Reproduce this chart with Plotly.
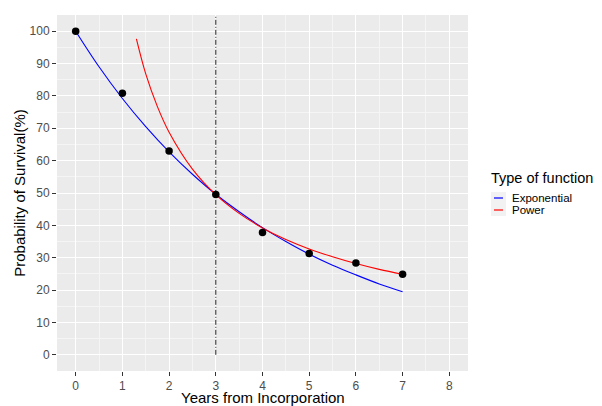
import plotly.graph_objects as go

# Observed survival points
years = [0, 1, 2, 3, 4, 5, 6, 7]
survival = [100, 80.8, 63.0, 49.5, 37.8, 31.3, 28.4, 24.9]

# Exponential fitted curve
exp_x = [0, 0.5, 1, 1.5, 2, 2.5, 3, 3.5, 4, 4.5, 5, 5.5, 6, 6.5, 7]
exp_y = [100, 89.0, 79.2, 70.5, 62.7, 55.8, 49.6, 44.2, 39.3, 35.0, 31.1, 27.7, 24.7, 21.9, 19.5]

# Power fitted curve
pow_x = [1.3, 1.5, 1.75, 2, 2.5, 3, 3.5, 4, 4.5, 5, 5.5, 6, 6.5, 7]
pow_y = [97.6, 86.8, 76.7, 68.8, 57.4, 49.5, 43.7, 39.2, 35.6, 32.7, 30.3, 28.2, 26.4, 24.9]

# Vertical reference line
ref_x = [3, 3]
ref_y = [0, 105]

x_ticks = [0, 1, 2, 3, 4, 5, 6, 7, 8]
y_ticks = [0, 10, 20, 30, 40, 50, 60, 70, 80, 90, 100]

x_title = "Years from Incorporation"
y_title = "Probability of Survival(%)"
legend_title = "Type of function"
legend_names = ["Exponential", "Power"]
legend_colors = ["#0000ff", "#ff0000"]

FONT = "Liberation Sans, Arial"
OFF = 8  # page body margin
W, H = 602 - OFF, 406 - OFF

fig = go.Figure()
fig.add_trace(go.Scatter(x=ref_x, y=ref_y, mode="lines",
                         line=dict(color="#222222", width=1, dash="5px,2px,1px,2px"),
                         showlegend=False, hoverinfo="skip"))
fig.add_trace(go.Scatter(x=exp_x, y=exp_y, mode="lines", name=legend_names[0],
                         line=dict(color=legend_colors[0], width=1.1, shape="spline"),
                         showlegend=False))
fig.add_trace(go.Scatter(x=pow_x, y=pow_y, mode="lines", name=legend_names[1],
                         line=dict(color=legend_colors[1], width=1.1, shape="spline"),
                         showlegend=False))
fig.add_trace(go.Scatter(x=years, y=survival, mode="markers",
                         marker=dict(color="black", size=7.5), showlegend=False))

axis_common = dict(
    showgrid=True, gridcolor="white", gridwidth=1.1,
    zeroline=False, showline=False, automargin=False,
    ticks="outside", ticklen=4, tickcolor="#333333", tickwidth=1,
    tickfont=dict(family=FONT, size=12, color="#4d4d4d"),
)

fig.update_xaxes(range=[-0.4, 8.4], tickvals=x_ticks,
                 minor=dict(dtick=0.5, showgrid=True, gridcolor="#f5f5f5", gridwidth=0.5, ticks=""),
                 **axis_common)
fig.update_yaxes(range=[-5, 105], tickvals=y_ticks,
                 minor=dict(dtick=5, showgrid=True, gridcolor="#f5f5f5", gridwidth=0.5, ticks=""),
                 title=dict(text=y_title, standoff=0,
                            font=dict(family=FONT, size=15, color="black")),
                 **axis_common)

# Panel edges in figure pixels (page pixels minus the body margin)
L, R, T, B = 57 - OFF, 468 - OFF, 15 - OFF, 371 - OFF
def px(xp):
    return (xp - OFF - L) / (R - L)
def py(yp):
    return (B - (yp - OFF)) / (B - T)

annotations = [
    # x-axis title (sits at the bottom edge, slightly cut as in the reference)
    dict(text=x_title, x=0.5, y=py(398), xref="paper", yref="paper",
         xanchor="center", yanchor="middle", showarrow=False, borderpad=0,
         font=dict(family=FONT, size=15, color="black")),
    # legend title
    dict(text=legend_title, x=px(490), y=py(178), xref="paper", yref="paper",
         xanchor="left", yanchor="middle", showarrow=False, borderpad=0,
         font=dict(family=FONT, size=14.5, color="black")),
]
shapes = []
item_y = [198, 210]
for name, col, yc in zip(legend_names, legend_colors, item_y):
    shapes.append(dict(type="rect", xref="paper", yref="paper",
                       x0=px(491), x1=px(506), y0=py(yc + 6), y1=py(yc - 6),
                       fillcolor="#f2f2f2", line=dict(width=0), layer="above"))
    shapes.append(dict(type="line", xref="paper", yref="paper",
                       x0=px(494), x1=px(503), y0=py(yc), y1=py(yc),
                       line=dict(color=col, width=1.2), layer="above"))
    annotations.append(dict(text=name, x=px(511), y=py(yc), xref="paper", yref="paper",
                            xanchor="left", yanchor="middle", showarrow=False, borderpad=0,
                            font=dict(family=FONT, size=11.5, color="black")))

fig.update_layout(
    width=W, height=H,
    margin=dict(l=L, r=W - R, t=T, b=H - B),
    plot_bgcolor="#ebebeb", paper_bgcolor="white",
    font=dict(family=FONT),
    showlegend=False,
    annotations=annotations,
    shapes=shapes,
)

fig.write_html("out.html")
